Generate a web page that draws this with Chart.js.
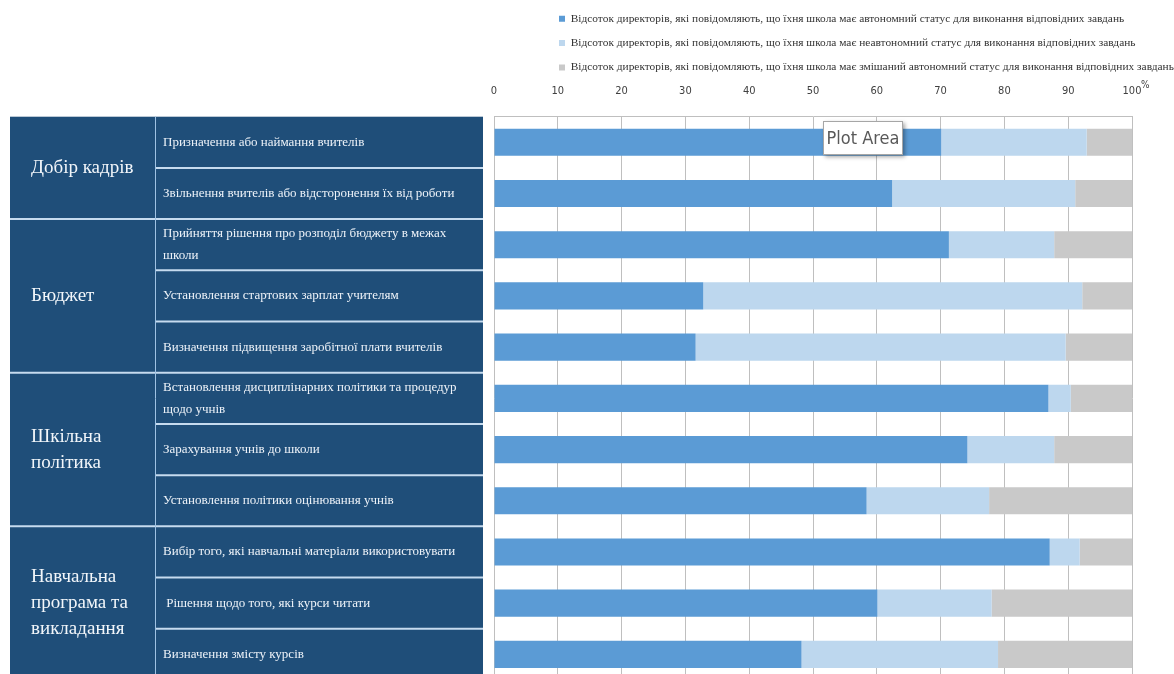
<!DOCTYPE html>
<html lang="uk">
<head>
<meta charset="utf-8">
<title>Автономія шкіл</title>
<script src="https://cdn.jsdelivr.net/npm/chart.js@4.4.1/dist/chart.umd.min.js"></script>
<style>
  html, body { margin: 0; padding: 0; overflow: hidden; background: #fff; }
  #wrap { position: relative; width: 1174px; height: 690px; }
</style>
</head>
<body>
<div id="wrap"><canvas id="chartAutonomy"></canvas></div>
<script>
// Підписи рядків (завдання), багаторядкові — масивом
const categories = [
  'Призначення або наймання вчителів',
  'Звільнення вчителів або відсторонення їх від роботи',
  ['Прийняття рішення про розподіл бюджету в межах', 'школи'],
  'Установлення стартових зарплат учителям',
  'Визначення підвищення заробітної плати вчителів',
  ['Встановлення дисциплінарних політики та процедур', 'щодо учнів'],
  'Зарахування учнів до школи',
  'Установлення політики оцінювання учнів',
  'Вибір того, які навчальні матеріали використовувати',
  ' Рішення щодо того, які курси читати',
  'Визначення змісту курсів'
];

// Групи в лівій колонці та кількість рядків у кожній
const groupNames = [
  ['Добір кадрів'],
  ['Бюджет'],
  ['Шкільна', 'політика'],
  ['Навчальна', 'програма та', 'викладання']
];
const groupSizes = [2, 3, 3, 3];

const seriesLabels = [
  'Відсоток директорів, які повідомляють, що їхня школа має автономний статус для виконання відповідних завдань',
  'Відсоток директорів, які повідомляють, що їхня школа має неавтономний статус для виконання відповідних завдань',
  'Відсоток директорів, які повідомляють, що їхня школа має змішаний автономний статус для виконання відповідних завдань'
];

const autonomous    = [70.1, 62.4, 71.3, 32.8, 31.6, 86.9, 74.2, 58.4, 87.1, 60.1, 48.2];
const nonAutonomous = [22.8, 28.7, 16.5, 59.4, 58.0, 3.5, 13.6, 19.2, 4.7, 17.9, 30.8];
const mixed         = [7.1, 8.9, 12.2, 7.8, 10.4, 9.6, 12.2, 22.4, 8.2, 22.0, 21.0];

const xTicks = [0, 10, 20, 30, 40, 50, 60, 70, 80, 90, 100];

const colors = ['#5b9bd5', '#bdd7ee', '#c9c9c9'];
const serif = '"Liberation Serif", "Times New Roman", serif';
const narrow = '"Liberation Sans Narrow", "DejaVu Sans Condensed", sans-serif';

// Ліва таблиця з групами, вирівняна по категорійній осі
const tablePlugin = {
  id: 'leftTable',
  beforeDraw(chart) {
    const ctx = chart.ctx;
    const y = chart.scales.y;
    const half = (y.getPixelForValue(1) - y.getPixelForValue(0)) / 2;
    const x0 = 10, xSplit = 155, x1 = 483;
    const top = y.getPixelForValue(0) - half;
    const bottom = y.getPixelForValue(categories.length - 1) + half;

    ctx.save();
    ctx.fillStyle = '#1f4e79';
    ctx.fillRect(x0, top, x1 - x0, bottom - top);

    ctx.textBaseline = 'middle';
    ctx.textAlign = 'left';
    ctx.fillStyle = '#eef3f9';
    ctx.font = '13px ' + serif;
    categories.forEach((lab, i) => {
      const lines = Array.isArray(lab) ? lab : [lab];
      const cy = y.getPixelForValue(i);
      lines.forEach((t, k) => {
        ctx.fillText(t, xSplit + 8, cy + (k - (lines.length - 1) / 2) * 22);
      });
    });

    // роздільники рядків
    const groupEnds = [];
    groupSizes.reduce((acc, n) => { groupEnds.push(acc + n - 1); return acc + n; }, 0);
    ctx.strokeStyle = '#c6dbef';
    ctx.lineWidth = 2;
    for (let i = 0; i < categories.length - 1; i++) {
      const yy = y.getPixelForValue(i) + half;
      ctx.beginPath();
      ctx.moveTo(groupEnds.includes(i) ? x0 : xSplit, yy);
      ctx.lineTo(x1, yy);
      ctx.stroke();
    }
    ctx.lineWidth = 1;
    ctx.strokeStyle = '#9fc2e3';
    ctx.beginPath();
    ctx.moveTo(xSplit + 0.5, top);
    ctx.lineTo(xSplit + 0.5, bottom);
    ctx.stroke();

    // назви груп
    ctx.font = '19px ' + serif;
    ctx.fillStyle = '#f2f6fa';
    let start = 0;
    groupNames.forEach((lines, g) => {
      const endIdx = start + groupSizes[g] - 1;
      const cy = (y.getPixelForValue(start) + y.getPixelForValue(endIdx)) / 2;
      lines.forEach((t, k) => {
        ctx.fillText(t, 31, cy + (k - (lines.length - 1) / 2) * 26);
      });
      start += groupSizes[g];
    });
    ctx.restore();
  },
  afterDraw(chart) {
    const ctx = chart.ctx;
    const x = chart.scales.x;
    ctx.save();
    // знак % біля останньої позначки
    ctx.font = '10px ' + narrow;
    ctx.fillStyle = '#404040';
    ctx.textBaseline = 'middle';
    ctx.fillText('%', x.getPixelForValue(100) + 9, 85);

    // підказка "Plot Area"
    const bx = 823, by = 121, bw = 80, bh = 34;
    ctx.shadowColor = 'rgba(0,0,0,0.35)';
    ctx.shadowBlur = 4;
    ctx.shadowOffsetX = 2;
    ctx.shadowOffsetY = 2;
    ctx.fillStyle = '#fff';
    ctx.fillRect(bx, by, bw, bh);
    ctx.shadowColor = 'transparent';
    ctx.strokeStyle = '#a6a6a6';
    ctx.lineWidth = 1;
    ctx.strokeRect(bx + 0.5, by + 0.5, bw - 1, bh - 1);
    ctx.fillStyle = '#595959';
    ctx.font = '18px ' + narrow;
    ctx.textAlign = 'center';
    ctx.fillText('Plot Area', bx + bw / 2, by + bh / 2 + 1);
    ctx.restore();
  }
};

// Зсуваємо легенду, щоб рядки починались зліва як в оригіналі
const legendShift = {
  id: 'legendShift',
  afterLayout(chart) {
    const lg = chart.legend;
    if (!lg) return;
    lg.left = 546;
    lg.right = chart.width;
    lg.width = lg.right - lg.left;
  }
};

const ctx = document.getElementById('chartAutonomy');
new Chart(ctx, {
  type: 'bar',
  data: {
    labels: categories,
    datasets: [
      { label: seriesLabels[0], data: autonomous, backgroundColor: colors[0] },
      { label: seriesLabels[1], data: nonAutonomous, backgroundColor: colors[1] },
      { label: seriesLabels[2], data: mixed, backgroundColor: colors[2] }
    ]
  },
  options: {
    indexAxis: 'y',
    responsive: true,
    maintainAspectRatio: false,
    animation: false,
    layout: { padding: { left: 494, right: 42, top: 0, bottom: 10 } },
    datasets: {
      bar: { categoryPercentage: 1, barPercentage: 0.53, borderWidth: 0 }
    },
    scales: {
      x: {
        position: 'top',
        stacked: true,
        min: 0,
        max: 100,
        afterBuildTicks: axis => { axis.ticks = xTicks.map(v => ({ value: v })); },
        afterFit: axis => { axis.height = 33.5; },
        ticks: {
          padding: 19,
          color: '#404040',
          font: { family: narrow, size: 11 }
        },
        grid: { color: '#bfbfbf', drawTicks: false },
        border: { color: '#bfbfbf' }
      },
      y: {
        stacked: true,
        display: false
      }
    },
    plugins: {
      legend: {
        position: 'top',
        align: 'start',
        labels: {
          boxWidth: 6,
          boxHeight: 6,
          padding: 13,
          color: '#333333',
          font: { family: serif, size: 11.4 }
        }
      },
      tooltip: { enabled: true }
    }
  },
  plugins: [tablePlugin, legendShift]
});
</script>
</body>
</html>
